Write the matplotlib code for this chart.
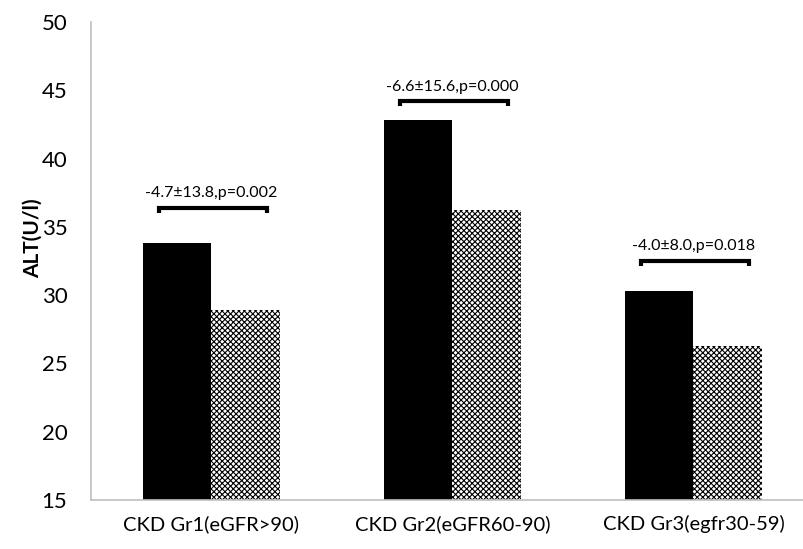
import numpy as np
import matplotlib.pyplot as plt

plt.rcParams['font.family'] = ['Lato', 'DejaVu Sans']

groups = ["CKD Gr1(eGFR>90)", "CKD Gr2(eGFR60-90)", "CKD Gr3(egfr30-59)"]
before = [33.8, 42.8, 30.3]
after = [28.9, 36.2, 26.3]
notes = ["-4.7±13.8,p=0.002", "-6.6±15.6,p=0.000", "-4.0±8.0,p=0.018"]
bracket_y = [36.4, 44.2, 32.5]

fig = plt.figure(figsize=(8.04, 5.49), dpi=100)
ax = fig.add_axes([91/804, 49/549, 723/804, 478/549])

x = np.arange(len(groups))
w = 0.285
ax.bar(x - w/2, before, w, color="black")
plt.rcParams['hatch.color'] = 'black'
plt.rcParams['hatch.linewidth'] = 0.8
ax.bar(x + w/2, after, w, color="white", edgecolor="black", hatch="xxxxxx", linewidth=0)

for i in range(len(groups)):
    x0, x1 = x[i] - 0.216, x[i] + 0.232
    y = bracket_y[i]
    ax.plot([x0, x0, x1, x1], [y - 0.35, y, y, y - 0.35], color="black", lw=3,
            solid_joinstyle="miter", solid_capstyle="butt")
    ax.text(x[i], y + 0.55, notes[i], ha="center", va="bottom", fontsize=11.5)

ax.set_ylim(15, 50)
ax.set_xlim(-0.5, 2.5)
ax.set_yticks(range(15, 51, 5))
ax.set_xticks(x)
ax.set_xticklabels(groups)
ax.tick_params(axis="both", length=0)
ax.tick_params(axis="y", pad=17, labelsize=16)
ax.tick_params(axis="x", pad=11, labelsize=14.5)
fig.text(33/804, 1 - 238/549, "ALT(U/l)", rotation=90, fontsize=15,
         fontweight="bold", ha="center", va="center")
for s in ["top", "right"]:
    ax.spines[s].set_visible(False)
for s in ["left", "bottom"]:
    ax.spines[s].set_color("#bfbfbf")
    ax.spines[s].set_linewidth(1.2)

fig.savefig("out.png", dpi=100)
